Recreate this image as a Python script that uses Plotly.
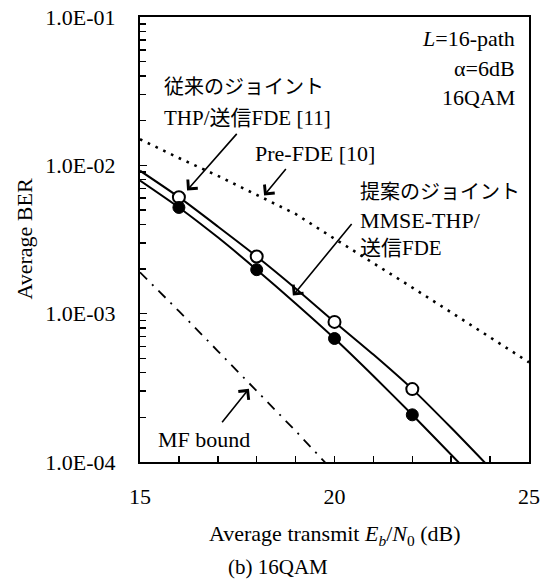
import plotly.graph_objects as go

# ---- data ----
snr_marks = [16, 18, 20, 22]
ber_conv_marks = [6.1e-3, 2.43e-3, 8.8e-4, 3.1e-4]      # 従来のジョイントTHP/送信FDE (open circles)
ber_prop_marks = [5.2e-3, 1.98e-3, 6.8e-4, 2.08e-4]     # 提案のジョイントMMSE-THP/送信FDE (filled)

snr_curve = [15, 16, 17, 18, 19, 20, 21, 22, 23, 24]
ber_conv_curve = [9.2e-3, 6.1e-3, 3.87e-3, 2.43e-3, 1.48e-3, 8.8e-4, 5.3e-4, 3.1e-4, 1.7e-4, 9.1e-5]
ber_prop_curve = [7.9e-3, 5.2e-3, 3.27e-3, 1.98e-3, 1.17e-3, 6.8e-4, 3.8e-4, 2.08e-4, 1.12e-4, 6.0e-5]

snr_pre = [15, 16, 17, 18, 19, 20, 21, 22, 23, 24, 25]
ber_pre = [1.5e-2, 1.12e-2, 8.5e-3, 6.3e-3, 4.7e-3, 3.2e-3, 2.2e-3, 1.5e-3, 1.02e-3, 6.9e-4, 4.7e-4]

snr_mf = [15, 16, 17, 18, 19, 20]
ber_mf = [1.9e-3, 1.04e-3, 5.6e-4, 3.0e-4, 1.62e-4, 8.5e-5]

y_tickvals = [1e-4, 1e-3, 1e-2, 1e-1]
y_ticktext = ["1.0E-04", "1.0E-03", "1.0E-02", "1.0E-01"]
y_minor = [k * 10.0 ** e for e in (-4, -3, -2) for k in range(2, 10)]

SERIF = "Liberation Serif"
MIXED = "Liberation Serif, Noto Sans CJK JP"

fig = go.Figure()
fig.add_trace(go.Scatter(x=snr_pre, y=ber_pre, mode="lines", hoverinfo="skip",
                         line=dict(color="black", width=2.6, dash="2.6px,6px"), showlegend=False))
fig.add_trace(go.Scatter(x=snr_mf, y=ber_mf, mode="lines", hoverinfo="skip",
                         line=dict(color="black", width=1.8, dash="10px,7px,2px,7px"), showlegend=False))
fig.add_trace(go.Scatter(x=snr_curve, y=ber_conv_curve, mode="lines", hoverinfo="skip",
                         line=dict(color="black", width=2, shape="spline", smoothing=0.6), showlegend=False))
fig.add_trace(go.Scatter(x=snr_curve, y=ber_prop_curve, mode="lines", hoverinfo="skip",
                         line=dict(color="black", width=2, shape="spline", smoothing=0.6), showlegend=False))
fig.add_trace(go.Scatter(x=snr_marks, y=ber_conv_marks, mode="markers", hoverinfo="skip",
                         marker=dict(symbol="circle", size=12, color="white",
                                     line=dict(color="black", width=2)), showlegend=False))
fig.add_trace(go.Scatter(x=snr_marks, y=ber_prop_marks, mode="markers", hoverinfo="skip",
                         marker=dict(symbol="circle", size=12, color="black",
                                     line=dict(color="black", width=1)), showlegend=False))

ann = []
def text(x, ylog, s, size=21, xanchor="left", family=SERIF):
    ann.append(dict(x=x, y=ylog, xref="x", yref="y", text=s, showarrow=False,
                    xanchor=xanchor, yanchor="middle",
                    font=dict(family=family, size=size, color="black")))

def arrow(x, ylog, ax, ay):
    ann.append(dict(x=x, y=ylog, xref="x", yref="y", text="", showarrow=True,
                    ax=ax, ay=ay, arrowhead=4, arrowsize=1.6, arrowwidth=1.6,
                    arrowcolor="black", standoff=0, startstandoff=0))

text(15.57, -1.473, "従来のジョイント", size=20, family=MIXED)
text(15.57, -1.682, "THP/送信FDE [11]", size=21, family=MIXED)
text(17.90, -1.919, "Pre-FDE [10]", size=22)
text(20.60, -2.182, "提案のジョイント", size=20, family=MIXED)
text(20.60, -2.372, "MMSE-THP/", size=22)
text(20.60, -2.554, "送信FDE", size=21, family=MIXED)
text(15.41, -3.851, "MF bound", size=22)
text(24.69, -1.142, "<i>L</i>=16-path", size=22, xanchor="right")
text(24.69, -1.345, "α=6dB", size=22, xanchor="right")
text(24.69, -1.541, "16QAM", size=22, xanchor="right")

arrow(16.21, -2.169, 51, -58)
arrow(18.19, -2.203, 23, -28)
arrow(18.93, -2.878, 60, -73)
arrow(17.80, -3.507, -28, 35)

ann.append(dict(x=0.501, y=-0.164, xref="paper", yref="paper", showarrow=False,
                text="Average transmit <i>E<sub>b</sub></i>/<i>N</i><sub>0</sub> (dB)",
                xanchor="center", yanchor="middle",
                font=dict(family=SERIF, size=22, color="black")))
ann.append(dict(x=0.355, y=-0.236, xref="paper", yref="paper", showarrow=False,
                text="(b) 16QAM", xanchor="center", yanchor="middle",
                font=dict(family=SERIF, size=21, color="black")))
ann.append(dict(x=-0.298, y=0.5, xref="paper", yref="paper", showarrow=False,
                text="Average BER", textangle=-90, xanchor="center", yanchor="middle",
                font=dict(family=SERIF, size=22, color="black")))

fig.update_layout(
    width=554, height=580,
    margin=dict(l=140, r=25, t=17, b=118, autoexpand=False),
    paper_bgcolor="white", plot_bgcolor="white",
    hovermode=False,
    annotations=ann,
    xaxis=dict(range=[15, 25], tick0=15, dtick=5, ticks="inside", ticklen=6, tickwidth=1.5,
               tickcolor="black", minor=dict(dtick=1, ticks="inside", ticklen=6, tickwidth=1.5,
                                             tickcolor="black"),
               showline=True, linewidth=2, linecolor="black", mirror=True, automargin=False,
               showgrid=False, zeroline=False, ticklabelstandoff=14,
               tickfont=dict(family=SERIF, size=22, color="black")),
    yaxis=dict(type="log", range=[-4, -1], tickvals=y_tickvals, ticktext=y_ticktext,
               ticks="inside", ticklen=7, tickwidth=1.5, tickcolor="black", automargin=False,
               minor=dict(tickvals=y_minor, ticks="inside", ticklen=6, tickwidth=1.5,
                          tickcolor="black", showgrid=False),
               showline=True, linewidth=2, linecolor="black", mirror=True,
               showgrid=False, zeroline=False, ticklabelstandoff=18,
               tickfont=dict(family=SERIF, size=22, color="black")),
)

fig.write_html("out.html", config={"displayModeBar": False, "staticPlot": True},
               post_script="document.body.style.margin='0px';document.body.style.overflow='hidden';")
